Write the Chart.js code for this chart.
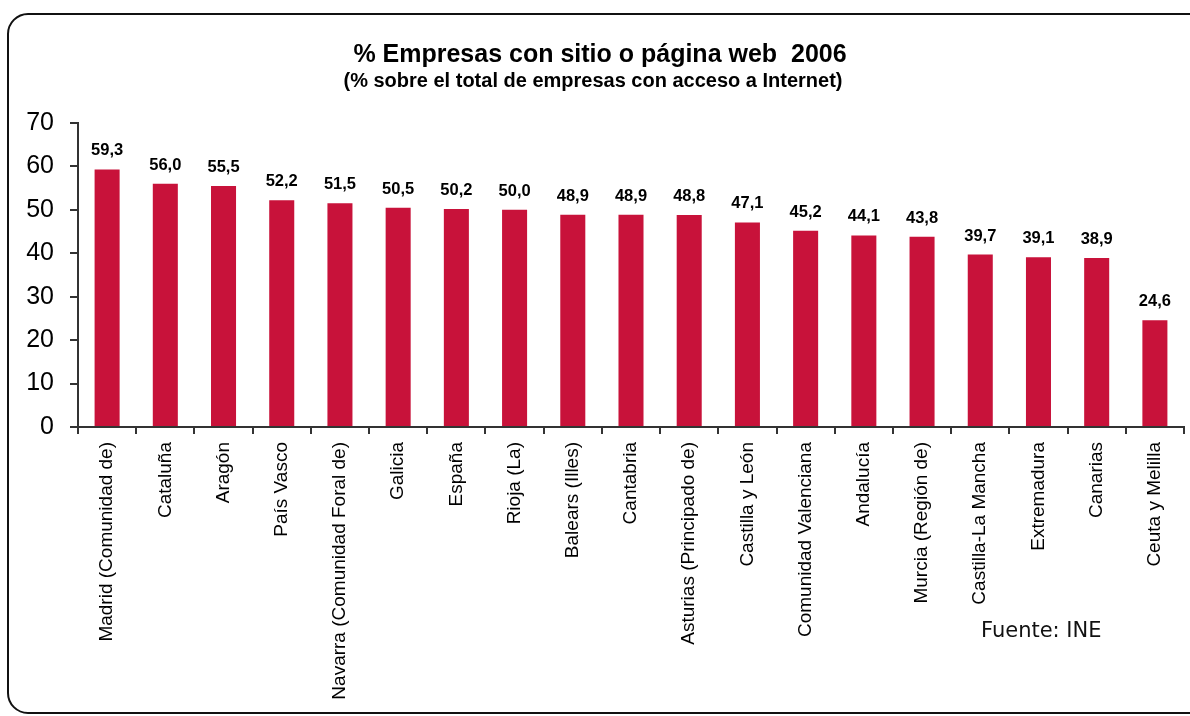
<!DOCTYPE html>
<html>
<head>
<meta charset="utf-8">
<script src="https://cdn.jsdelivr.net/npm/chart.js@4/dist/chart.umd.min.js"></script>
<style>
  html, body { margin: 0; padding: 0; background: #fff; }
  #wrap { width: 1190px; height: 716px; position: relative; }
</style>
</head>
<body>
<div id="wrap"><canvas id="c" width="1190" height="716"></canvas></div>
<script>
const categories = [
  "Madrid (Comunidad de)", "Cataluña", "Aragón", "País Vasco",
  "Navarra (Comunidad Foral de)", "Galicia", "España", "Rioja (La)",
  "Balears (Illes)", "Cantabria", "Asturias (Principado de)", "Castilla y León",
  "Comunidad Valenciana", "Andalucía", "Murcia (Región de)", "Castilla-La Mancha",
  "Extremadura", "Canarias", "Ceuta y Melilla"
];
const values = [59.3, 56.0, 55.5, 52.2, 51.5, 50.5, 50.2, 50.0, 48.9, 48.9, 48.8, 47.1, 45.2, 44.1, 43.8, 39.7, 39.1, 38.9, 24.6];
const titleText = "% Empresas con sitio o página web  2006";
const subtitleText = "(% sobre el total de empresas con acceso a Internet)";
const sourceText = "Fuente: INE";
const yMin = 0, yMax = 70, yStep = 10;

const ARIAL = "'Liberation Sans', Arial, Helvetica, sans-serif";

const decorPlugin = {
  id: 'decor',
  beforeDraw(chart) {
    const ctx = chart.ctx;
    ctx.save();
    ctx.fillStyle = '#ffffff';
    ctx.fillRect(0, 0, chart.width, chart.height);
    ctx.beginPath();
    ctx.roundRect(8, 14, 1200, 699, 20);
    ctx.lineWidth = 2;
    ctx.strokeStyle = '#111';
    ctx.stroke();
    ctx.restore();
  },
  afterDraw(chart) {
    const ctx = chart.ctx;
    ctx.save();
    ctx.fillStyle = '#000';
    ctx.textAlign = 'center';
    ctx.textBaseline = 'alphabetic';
    ctx.font = "bold 25px " + ARIAL;
    ctx.fillText(titleText, 600, 62);
    ctx.font = "bold 20px " + ARIAL;
    ctx.fillText(subtitleText, 593, 87);
    ctx.textAlign = 'left';
    ctx.font = "21px 'DejaVu Sans', Verdana, sans-serif";
    ctx.fillStyle = '#111';
    ctx.fillText(sourceText, 981, 637);
    // value labels
    const meta = chart.getDatasetMeta(0);
    ctx.font = "bold 16.5px " + ARIAL;
    ctx.fillStyle = '#000';
    ctx.textAlign = 'center';
    meta.data.forEach((bar, i) => {
      const v = chart.data.datasets[0].data[i];
      ctx.fillText(v.toFixed(1).replace('.', ','), bar.x, bar.y - 14);
    });
    ctx.restore();
  }
};

new Chart(document.getElementById('c'), {
  type: 'bar',
  data: {
    labels: categories,
    datasets: [{
      data: values,
      backgroundColor: '#C8123A',
      borderWidth: 0,
      categoryPercentage: 1.0,
      barPercentage: 0.43
    }]
  },
  options: {
    responsive: false,
    animation: false,
    devicePixelRatio: 1,
    layout: { padding: { top: 123, right: 6, left: 0, bottom: 0 } },
    plugins: {
      legend: { display: false },
      title: { display: false },
      tooltip: { enabled: false }
    },
    scales: {
      x: {
        offset: true,
        grid: { display: true, offset: true, drawOnChartArea: false, drawTicks: true, tickLength: 7, color: '#333', lineWidth: 2 },
        border: { display: true, color: '#333', width: 2 },
        ticks: {
          autoSkip: false, minRotation: 90, maxRotation: 90, padding: 8,
          color: '#000', font: { family: ARIAL, size: 19 }
        },
        afterFit(scale) { scale.height = 289; }
      },
      y: {
        min: yMin, max: yMax,
        grid: { display: true, drawOnChartArea: false, drawTicks: true, tickLength: 8, color: '#333', lineWidth: 2 },
        border: { display: true, color: '#333', width: 2 },
        ticks: {
          stepSize: yStep, padding: 16, color: '#000',
          font: { family: ARIAL, size: 25 }
        },
        afterFit(scale) { scale.width = 78; }
      }
    }
  },
  plugins: [decorPlugin]
});
</script>
</body>
</html>
